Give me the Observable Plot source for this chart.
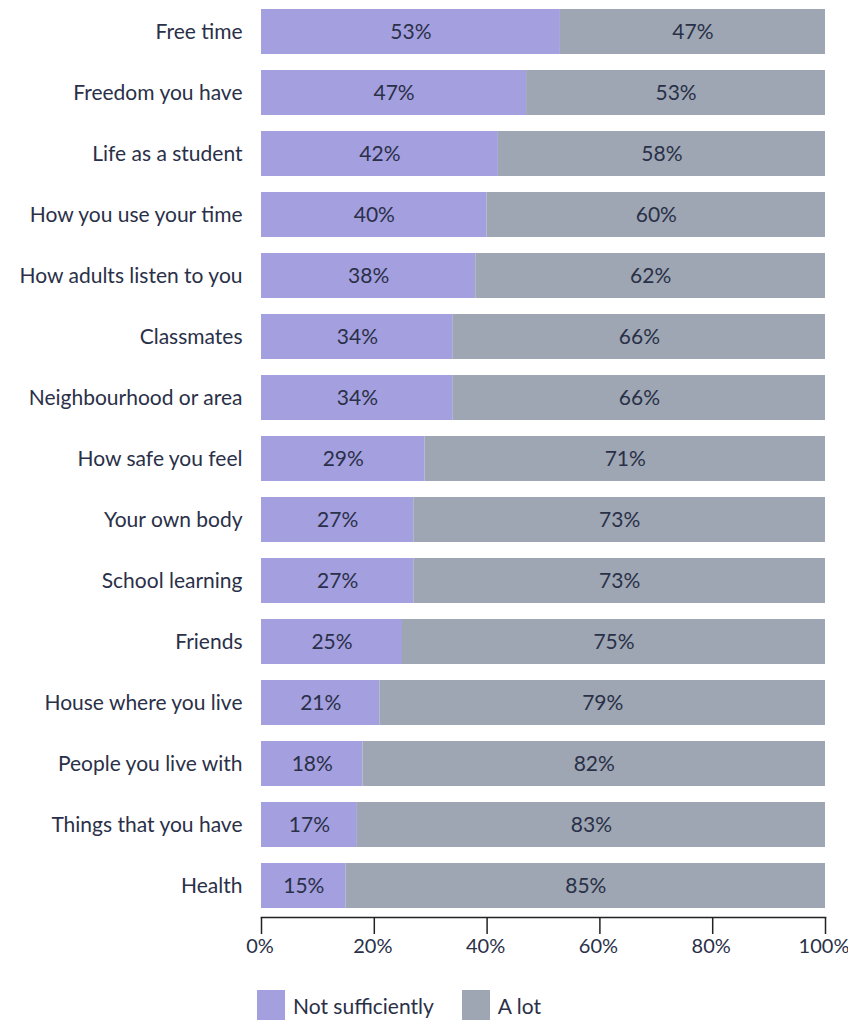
<!DOCTYPE html>
<html>
<head>
<meta charset="utf-8">
<script src="https://cdn.jsdelivr.net/npm/d3@7"></script>
<script src="https://cdn.jsdelivr.net/npm/@observablehq/plot@0.6"></script>
<style>
  body { margin: 0; background: #fff; font-family: Lato, "Noto Sans", sans-serif; }
  #chart svg { display: block; }
  .legend { display: flex; align-items: center; margin-left: 257px; margin-top: 25px; font-size: 21px; color: #2a3048; }
  .legend .item { display: flex; align-items: center; margin-right: 28px; }
  .legend .sw { width: 28px; height: 30px; margin-right: 8px; }
</style>
</head>
<body>
<div id="chart"></div>
<div class="legend" id="legend"></div>
<script>
const categories = [
  "Free time", "Freedom you have", "Life as a student", "How you use your time",
  "How adults listen to you", "Classmates", "Neighbourhood or area", "How safe you feel",
  "Your own body", "School learning", "Friends", "House where you live",
  "People you live with", "Things that you have", "Health"
];
const notSufficiently = [53, 47, 42, 40, 38, 34, 34, 29, 27, 27, 25, 21, 18, 17, 15];
const aLot =            [47, 53, 58, 60, 62, 66, 66, 71, 73, 73, 75, 79, 82, 83, 85];
const seriesNames = ["Not sufficiently", "A lot"];
const seriesColors = ["#a49fdf", "#9da6b2"];
const xTicks = [0, 20, 40, 60, 80, 100];

const rows = [];
categories.forEach((c, i) => {
  rows.push({category: c, series: seriesNames[0], value: notSufficiently[i]});
  rows.push({category: c, series: seriesNames[1], value: aLot[i]});
});

const textColor = "#2a3048";
const fs = 21;
const stackOpts = {x: "value", y: "category", z: "series", order: seriesNames};

const chart = Plot.plot({
  width: 848,
  height: 965,
  marginLeft: 261,
  marginRight: 23,
  marginTop: 0,
  marginBottom: 48,
  style: {fontFamily: "Lato, 'Noto Sans', sans-serif", fontSize: fs + "px", color: textColor},
  x: {domain: [0, 100]},
  y: {domain: categories, paddingInner: 0.266, paddingOuter: 0.133},
  color: {domain: seriesNames, range: seriesColors},
  marks: [
    Plot.barX(rows, Plot.stackX({...stackOpts, fill: "series"})),
    Plot.text(rows, Plot.stackX({...stackOpts, text: d => d.value + "%", fill: textColor, fontSize: fs})),
    Plot.axisY({tickSize: 0, tickPadding: 19, label: null, fontSize: fs, fill: textColor}),
    Plot.axisX({ticks: xTicks, tickFormat: () => "", tickSize: 17, label: null, stroke: "#222", strokeWidth: 1.5}),
    Plot.axisX({ticks: xTicks, tickFormat: d => d + "%", tickSize: 0, tickPadding: 21, label: null, fontSize: 20, fill: textColor, dx: -1.5}),
    Plot.frame({anchor: "bottom", stroke: "#222", strokeWidth: 1.5})
  ]
});
document.getElementById("chart").appendChild(chart);

const legend = document.getElementById("legend");
seriesNames.forEach((s, i) => {
  const item = document.createElement("div");
  item.className = "item";
  const sw = document.createElement("div");
  sw.className = "sw";
  sw.style.background = seriesColors[i];
  const t = document.createElement("span");
  t.textContent = s;
  item.appendChild(sw);
  item.appendChild(t);
  legend.appendChild(item);
});
</script>
</body>
</html>
